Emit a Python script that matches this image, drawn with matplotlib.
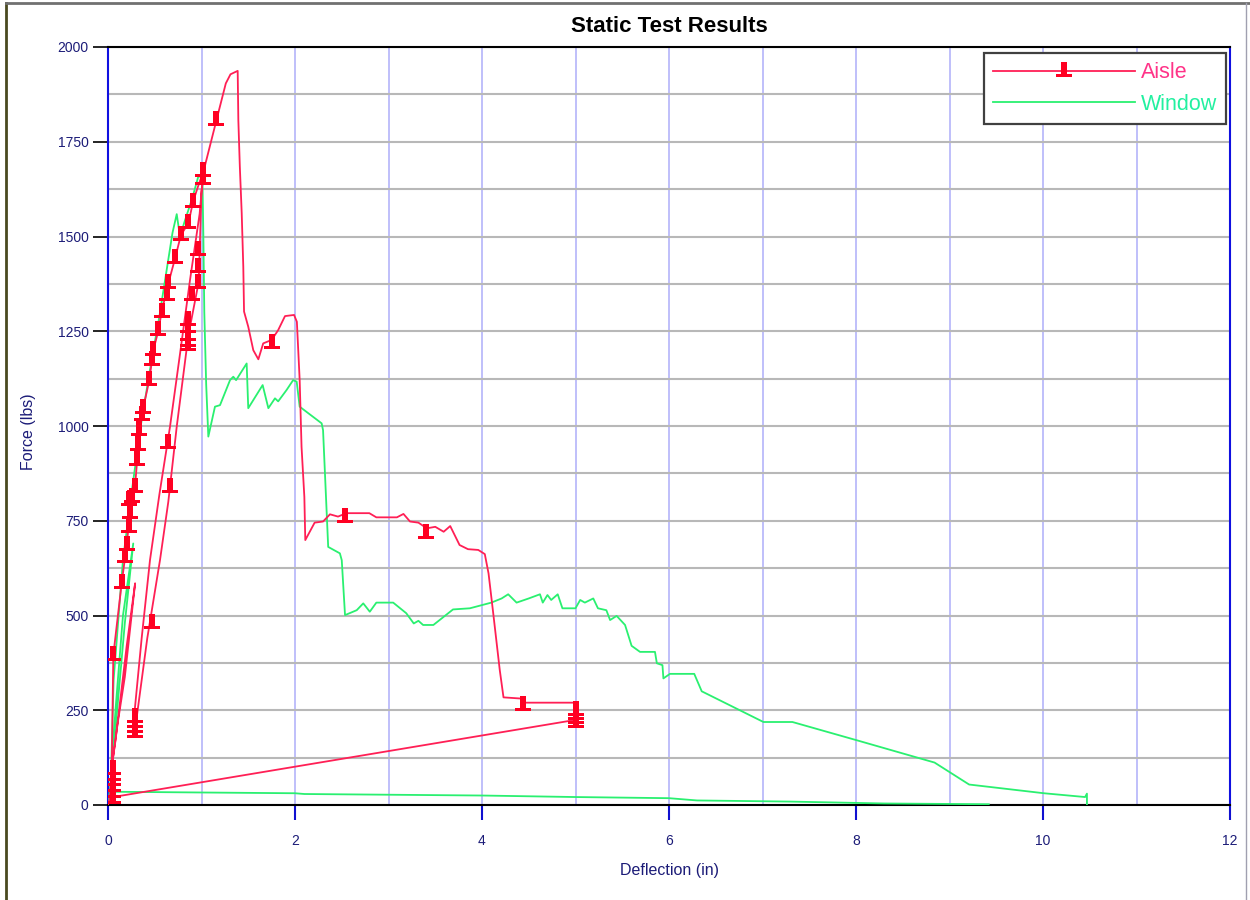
import numpy as np
import matplotlib
matplotlib.use('Agg')
import matplotlib.pyplot as plt
from matplotlib.path import Path
from matplotlib.lines import Line2D
from matplotlib.ticker import MultipleLocator

# Aisle seat: deflection (in) vs force (lbs)
aisle_defl = [0.00, 0.02, 0.04, 0.10, 0.18, 0.29, 0.20, 0.08, 0.04, 0.057, 0.146, 0.20, 0.235,
              0.289, 0.325, 0.36, 0.442, 0.485, 0.54, 0.574, 0.645, 0.717, 0.78, 0.86, 0.91, 0.96,
              1.02, 0.98, 0.877, 0.77, 0.663, 0.55, 0.449, 0.36, 0.27, 0.29, 0.42, 0.556, 0.645,
              0.735, 0.86, 0.97, 1.00, 1.04, 1.16, 1.26, 1.31, 1.387, 1.394, 1.41, 1.43, 1.447,
              1.455, 1.50, 1.554, 1.608, 1.66, 1.75, 1.82, 1.893, 1.99, 2.02, 2.05, 2.07, 2.10,
              2.11, 2.21, 2.30, 2.374, 2.46, 2.55, 2.795, 2.87, 3.09, 3.16, 3.23, 3.32, 3.41, 3.50,
              3.59, 3.66, 3.76, 3.85, 3.96, 4.03, 4.07, 4.12, 4.19, 4.23, 4.41, 4.46, 4.99, 5.01,
              5.01, 0.03]
aisle_force = [0, 20, 100, 210, 338, 585, 420, 170, 100, 396, 585, 686, 770,
               840, 950, 1029, 1121, 1200, 1253, 1302, 1376, 1442, 1504, 1535, 1592, 1630,
               1672, 1560, 1385, 1190, 998, 820, 646, 440, 210, 200, 440, 646, 800,
               998, 1240, 1380, 1620, 1690, 1807, 1904, 1928, 1937, 1807, 1684, 1562, 1420,
               1302, 1262, 1200, 1176, 1218, 1227, 1253, 1290, 1293, 1275, 1121, 945, 813,
               699, 745, 748, 767, 761, 770, 770, 759, 759, 768, 748, 745, 730, 734,
               721, 736, 686, 675, 673, 662, 611, 506, 356, 284, 281, 270, 270, 259,
               225, 20]

# Aisle marker positions
aisle_mark_defl = [0.05, 0.05, 0.05, 0.05, 0.05, 0.05, 0.057, 0.146, 0.18, 0.20, 0.228, 0.235,
                   0.228, 0.253, 0.289, 0.306, 0.325, 0.335, 0.36, 0.378, 0.442, 0.467, 0.485,
                   0.54, 0.574, 0.628, 0.645, 0.717, 0.78, 0.86, 0.91, 1.02, 1.02,
                   0.289, 0.289, 0.289, 0.289, 0.467, 0.663, 0.645, 0.86, 0.86, 0.86, 0.86,
                   0.86, 0.895, 0.966, 0.966, 0.966, 1.16, 1.75, 2.535, 3.40, 4.44,
                   5.01, 5.01, 5.01, 5.01]
aisle_mark_force = [18, 35, 50, 65, 80, 95, 396, 585, 655, 686, 734, 770,
                    805, 813, 840, 910, 950, 989, 1029, 1047, 1121, 1174, 1200,
                    1253, 1302, 1346, 1376, 1442, 1504, 1535, 1592, 1652, 1672,
                    193, 206, 220, 233, 479, 840, 954, 1214, 1225, 1240, 1260,
                    1280, 1346, 1376, 1420, 1464, 1807, 1218, 761, 717, 264,
                    218, 230, 240, 250]

# Window seat (nan = pen lifted between the end point and the return trace)
window_defl = [0.00, 0.02, 0.08, 0.16, 0.27, 0.18, 0.08, 0.03, 0.06, 0.16, 0.25, 0.35, 0.45,
               0.55, 0.62, 0.69, 0.735, 0.77, 0.82, 0.90, 0.97, 1.01, 1.02, 1.03, 1.05, 1.073,
               1.144, 1.198, 1.305, 1.34, 1.37, 1.483, 1.50, 1.654, 1.715, 1.786, 1.82, 1.91,
               1.98, 2.018, 2.05, 2.285, 2.30, 2.355, 2.48, 2.50, 2.535, 2.66, 2.73, 2.80,
               2.87, 3.05, 3.19, 3.27, 3.32, 3.37, 3.48, 3.69, 3.87, 4.10, 4.21, 4.28, 4.37,
               4.50, 4.62, 4.65, 4.70, 4.74, 4.81, 4.86, 5.00, 5.05, 5.10, 5.19, 5.24, 5.33,
               5.37, 5.44, 5.53, 5.60, 5.69, 5.85, 5.87, 5.93, 5.94, 6.01, 6.27, 6.35, 7.01,
               7.32, 8.02, 8.84, 9.21, 10.01, 10.45, 10.47, 10.47, np.nan, 9.42, 8.3, 7.3, 6.3,
               6.0, 5.0, 4.0, 2.1, 2.0, 1.0, 0.03]
window_force = [0, 40, 250, 500, 690, 480, 200, 60, 330, 646, 820, 1000, 1150,
                1290, 1400, 1510, 1559, 1500, 1540, 1600, 1662, 1650, 1500, 1300, 1110, 972,
                1051, 1055, 1121, 1130, 1121, 1165, 1047, 1108, 1047, 1073, 1065, 1095,
                1121, 1117, 1051, 1007, 989, 681, 664, 646, 501, 514, 532, 510,
                534, 534, 506, 479, 486, 475, 475, 516, 519, 534, 545, 556, 534,
                545, 556, 534, 554, 541, 556, 519, 519, 541, 534, 545, 519, 514,
                488, 499, 475, 420, 404, 404, 374, 369, 334, 346, 346, 300, 219,
                219, 170, 112, 54, 31, 21, 30, 0, np.nan, 2, 4, 9, 12,
                18, 21, 25, 29, 31, 33, 35]

x_ticks = [0, 2, 4, 6, 8, 10, 12]
y_ticks = [0, 250, 500, 750, 1000, 1250, 1500, 1750, 2000]

red = '#ff1f55'
green = '#2af070'
navy = '#1c1c78'

# upside-down T marker
tee = Path([(-0.52, -0.42), (0.52, -0.42), (0.52, -0.20), (0.19, -0.20), (0.19, 0.58),
            (-0.19, 0.58), (-0.19, -0.20), (-0.52, -0.20), (-0.52, -0.42)],
           [Path.MOVETO] + [Path.LINETO] * 7 + [Path.CLOSEPOLY])

plt.rcParams['font.family'] = ['Liberation Sans', 'DejaVu Sans']

fig = plt.figure(figsize=(12.5, 9), dpi=100)
ax = fig.add_axes([108 / 1250, 1 - 805 / 900, 1122 / 1250, 758 / 900])

ax.plot(window_defl, window_force, color=green, lw=1.3, zorder=3)
ax.plot(aisle_defl, aisle_force, color=red, lw=1.3, zorder=4)
ax.plot(aisle_mark_defl, aisle_mark_force, ls='none', marker=tee, ms=12.5,
        color='#ff0022', mew=0, zorder=5)

ax.set_xlim(0, 12)
ax.set_ylim(0, 2000)
ax.set_xticks(x_ticks)
ax.set_yticks(y_ticks)
ax.xaxis.set_minor_locator(MultipleLocator(1))
ax.yaxis.set_minor_locator(MultipleLocator(125))
ax.xaxis.grid(True, which='both', color='#b4b4fa', lw=1.2, zorder=0)
ax.yaxis.grid(True, which='both', color='#b8b8b8', lw=1.5, zorder=0)
ax.set_axisbelow(True)

ax.tick_params(axis='y', which='major', direction='out', length=11, width=1.2,
               color='black', labelcolor=navy, labelsize=10, pad=3)
ax.tick_params(axis='x', which='major', direction='out', length=11, width=1.5,
               color='#1010d0', labelcolor=navy, labelsize=10, pad=10)
ax.tick_params(which='minor', length=0)

for side in ['top', 'bottom']:
    ax.spines[side].set_color('black')
    ax.spines[side].set_linewidth(1.5)
for side in ['left', 'right']:
    ax.spines[side].set_color('#1010e0')
    ax.spines[side].set_linewidth(1.5)

fig.text(669 / 1250, 1 - 27 / 900, 'Static Test Results', ha='center', va='center',
         fontsize=16, fontweight='bold', color='black')
fig.text(669 / 1250, 1 - 871 / 900, 'Deflection (in)', ha='center', va='center',
         fontsize=11.5, color=navy)
fig.text(28 / 1250, 1 - 432 / 900, 'Force (lbs)', ha='center', va='center',
         rotation=90, fontsize=11.5, color=navy)

handles = [Line2D([], [], color=red, lw=1.3, marker=tee, ms=12.5, mfc='#ff0022',
                  mec='#ff0022', mew=0),
           Line2D([], [], color=green, lw=1.3)]
leg = ax.legend(handles, ['Aisle', 'Window'], loc='upper right',
                bbox_to_anchor=(0.9964, 0.992), borderaxespad=0, fontsize=15.5,
                handlelength=6.6, handletextpad=0.25, labelspacing=0.5, borderpad=0.42,
                numpoints=1, fancybox=False, framealpha=1)
leg.get_frame().set_edgecolor('#404040')
leg.get_frame().set_linewidth(1.6)
leg.get_texts()[0].set_color('#ff3388')
leg.get_texts()[1].set_color('#22f0a0')

# window border lines
fig.add_artist(Line2D([6 / 1250, 6 / 1250], [0, 1 - 3 / 900], color='#4a4a20', lw=2))
fig.add_artist(Line2D([6 / 1250, 1], [1 - 3 / 900, 1 - 3 / 900], color='#707070', lw=2))
fig.add_artist(Line2D([1246 / 1250, 1246 / 1250], [0, 1 - 3 / 900], color='#a0a0b0', lw=1))

fig.savefig('out.png', dpi=100, facecolor='white')
